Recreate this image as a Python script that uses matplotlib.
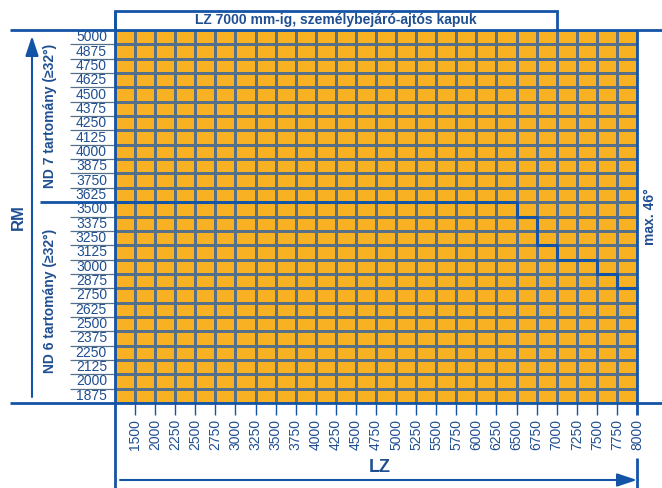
#! /usr/bin/env python
"""Door size chart: LZ x RM grid with ND 6 / ND 7 ranges."""

import numpy as np
import matplotlib.pyplot as plt
from matplotlib.colors import ListedColormap

# Chart data
lz_labels = [1500] + list(range(2000, 8001, 250))
rm_labels = list(range(5000, 1874, -125))
# top allowed RM of ND 6 range, one value per LZ column
nd6_top = [3500] * 20 + [3375, 3125, 3000, 3000, 2875, 2750]

title = "LZ 7000 mm-ig, személybejáró-ajtós kapuk"
nd7_text = "ND 7 tartomány (≥32°)"
nd6_text = "ND 6 tartomány (≥32°)"
angle_text = "max. 46°"

ORANGE = "#F8B122"
BLUE = "#1454A6"
TEXT = "#1F4F91"
GRID = "#56708A"

plt.rcParams['font.family'] = ['Liberation Sans', 'DejaVu Sans']

W, H = 662, 488
fig = plt.figure(figsize=(W / 100, H / 100), dpi=100)
x0, x1, y0, y1 = 115, 637, 30, 403
ax = fig.add_axes([x0 / W, 1 - y1 / H, (x1 - x0) / W, (y1 - y0) / H])

ncol, nrow = len(lz_labels), len(rm_labels)
cw = (x1 - x0) / ncol
rh = (y1 - y0) / nrow


def px(x):
    return (x - x0) / cw


def py(y):
    return (y - y0) / rh


cells = np.ones((nrow, ncol))
ax.pcolormesh(np.arange(ncol + 1), np.arange(nrow + 1), cells,
              cmap=ListedColormap([ORANGE]), edgecolors=GRID, linewidth=0.9)
ax.set_xlim(0, ncol)
ax.set_ylim(nrow, 0)
ax.axis('off')

# row lines continue into the label area
ax.hlines(np.arange(1, nrow), px(70), 0, color=GRID, lw=0.9, clip_on=False)

# frame lines
ax.hlines([0, nrow], px(10), px(662), color=BLUE, lw=2, clip_on=False,
          zorder=4)
ax.vlines(0, py(11), py(488), color=BLUE, lw=2, clip_on=False, zorder=4)
ax.vlines(ncol, 0, nrow, color=BLUE, lw=2, clip_on=False, zorder=4)
ax.vlines(ncol, nrow, py(415), color=BLUE, lw=2, clip_on=False)
ax.vlines(ncol, py(458), py(488), color=BLUE, lw=2, clip_on=False)

# title box
ax.plot([0, 0, 22, 22], [0, py(11), py(11), 0], color=BLUE, lw=2,
        clip_on=False, solid_joinstyle='miter')
ax.text(11, py(20), title, ha='center', va='center', color=TEXT,
        fontsize=10, fontweight='bold')

# ND 6 / ND 7 boundary
bounds = [rm_labels.index(v) for v in nd6_top]
ax.step(np.arange(ncol + 1), bounds + bounds[-1:], where='post',
        color=BLUE, lw=2.2, clip_on=False, zorder=5)
ax.hlines(bounds[0], px(40), 0, color=BLUE, lw=2, clip_on=False, zorder=5)

# y tick labels
for i, v in enumerate(rm_labels):
    ax.text(px(107), i + 0.5, str(v), ha='right', va='center',
            color=TEXT, fontsize=10)

# x ticks and labels
for k, v in enumerate(lz_labels, start=1):
    if k < ncol:
        ax.vlines(k, nrow, py(415), color=BLUE, lw=1, clip_on=False)
    ax.text(k, py(419), str(v), rotation=90, ha='center', va='top',
            color=TEXT, fontsize=10)

# axis titles and arrows
ax.text(px(380), py(467), "LZ", ha='center', va='center', color=TEXT,
        fontsize=13, fontweight='bold')
ax.annotate("", xy=(px(637), py(480)), xytext=(px(120), py(480)),
            annotation_clip=False,
            arrowprops=dict(arrowstyle='-|>,head_length=1.2,head_width=0.4',
                            color=BLUE, lw=1.5, shrinkA=0, shrinkB=0))
ax.text(px(18), py(217), "RM", rotation=90, ha='center', va='center',
        color=TEXT, fontsize=12, fontweight='bold')
ax.annotate("", xy=(px(32), py(36)), xytext=(px(32), py(397)),
            annotation_clip=False,
            arrowprops=dict(arrowstyle='-|>,head_length=1.2,head_width=0.4',
                            color=BLUE, lw=1.5, shrinkA=0, shrinkB=0))
ax.text(px(50), py(116), nd7_text, rotation=90, ha='center', va='center',
        color=TEXT, fontsize=10, fontweight='bold')
ax.text(px(50), py(301), nd6_text, rotation=90, ha='center', va='center',
        color=TEXT, fontsize=10, fontweight='bold')
ax.text(px(650), py(217), angle_text, rotation=90, ha='center', va='center',
        color=TEXT, fontsize=10, fontweight='bold')

fig.savefig("out.png", dpi=100)
